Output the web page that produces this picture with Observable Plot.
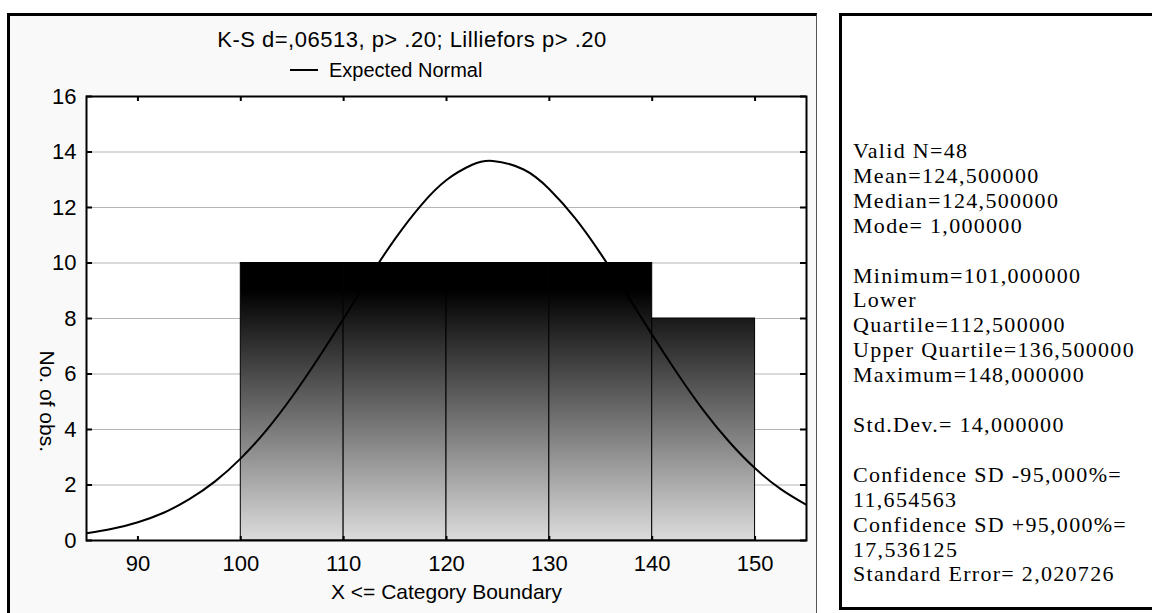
<!DOCTYPE html>
<html>
<head>
<meta charset="utf-8">
<script src="https://cdn.jsdelivr.net/npm/d3@7"></script>
<script src="https://cdn.jsdelivr.net/npm/@observablehq/plot@0.6"></script>
<style>
  html, body { margin: 0; padding: 0; background: #ffffff; width: 1152px; height: 613px; overflow: hidden; position: relative; }
  #leftPanel { position: absolute; left: 7px; top: 13px; width: 810px; height: 620px; box-sizing: border-box;
    background: #f9f9f9; border-top: 3px solid #000; border-left: 3px solid #000; border-right: 1px solid #555; }
  #rightPanel { position: absolute; left: 839px; top: 13px; width: 330px; height: 597px; box-sizing: border-box;
    background: #ffffff; border: 3px solid #000; }
  #title { position: absolute; left: 7px; width: 810px; top: 27px; text-align: center;
    font-family: "Liberation Sans", Arial, sans-serif; font-size: 22px; letter-spacing: 0.5px; line-height: 26px; color: #000; }
  #legend { position: absolute; left: 290px; top: 57px; height: 26px; display: flex; align-items: center;
    font-family: "Liberation Sans", Arial, sans-serif; font-size: 20px; color: #000; }
  #legend .swatch { width: 28px; height: 0; border-top: 2px solid #000; margin-right: 11px; }
  #chart { position: absolute; left: 7px; top: 80px; }
  #stats { position: absolute; left: 853px; top: 139px; font-family: "Liberation Serif", "Times New Roman", serif;
    font-size: 22px; letter-spacing: 1.3px; line-height: 24.9px; color: #000; white-space: pre; }
</style>
</head>
<body>
<div id="leftPanel"></div>
<div id="rightPanel"></div>
<div id="title"></div>
<div id="legend"><div class="swatch"></div><span id="legendText"></span></div>
<div id="chart"></div>
<div id="stats"></div>
<script>
// ---- data ----
const titleText = "K-S d=,06513, p> .20; Lilliefors p> .20";
const legendLabel = "Expected Normal";
const xLabel = "X <= Category Boundary";
const yLabel = "No. of obs.";

const binStarts = [100, 110, 120, 130, 140];
const binEnds = [110, 120, 130, 140, 150];
const counts = [10, 10, 10, 10, 8];

// expected normal curve
const curveX = [85, 87.5, 90, 92.5, 95, 97.5, 100, 102.5, 105, 107.5, 110, 112.5, 115, 117.5, 120, 122.5, 124.5, 127.5, 130, 132.5, 135, 137.5, 140, 142.5, 145, 147.5, 150, 152.5, 155];
const curveY = [0.26, 0.42, 0.66, 1.0, 1.49, 2.13, 2.96, 3.98, 5.19, 6.55, 8.0, 9.48, 10.87, 12.07, 12.99, 13.54, 13.68, 13.37, 12.66, 11.62, 10.33, 8.89, 7.41, 5.99, 4.68, 3.55, 2.60, 1.85, 1.28];

const xDomain = [85, 155];
const yDomain = [0, 16];
const xTicks = [90, 100, 110, 120, 130, 140, 150];
const yTicks = [0, 2, 4, 6, 8, 10, 12, 14, 16];

const statLines = [
  "Valid N=48",
  "Mean=124,500000",
  "Median=124,500000",
  "Mode= 1,000000",
  "",
  "Minimum=101,000000",
  "Lower",
  "Quartile=112,500000",
  "Upper Quartile=136,500000",
  "Maximum=148,000000",
  "",
  "Std.Dev.= 14,000000",
  "",
  "Confidence SD -95,000%=",
  "11,654563",
  "Confidence SD +95,000%=",
  "17,536125",
  "Standard Error= 2,020726"
];

// ---- build ----
document.getElementById("title").textContent = titleText;
document.getElementById("legendText").textContent = legendLabel;
document.getElementById("stats").textContent = statLines.join("\n");

const bins = binStarts.map((s, i) => ({x1: s, x2: binEnds[i], count: counts[i]}));
const curve = curveX.map((x, i) => ({x, y: curveY[i]}));

const W = 810, H = 533, mL = 79, mR = 11, mT = 16, mB = 73;
const plotW = W - mL - mR, plotH = H - mT - mB;

const chart = Plot.plot({
  width: W, height: H,
  marginLeft: mL, marginRight: mR, marginTop: mT, marginBottom: mB,
  style: {background: "transparent", fontFamily: "'Liberation Sans', Arial, sans-serif", fontSize: "22px", color: "#000"},
  x: {domain: xDomain, ticks: xTicks, tickSize: 0, tickPadding: 15, label: null},
  y: {domain: yDomain, ticks: yTicks, tickSize: 0, tickPadding: 10, label: null},
  marks: [
    Plot.frame({fill: "white", stroke: "none"}),
    Plot.ruleY(yTicks.filter(d => d > yDomain[0] && d < yDomain[1]), {stroke: "#b4b4b4", strokeWidth: 1}),
    Plot.rectY(bins, {x1: "x1", x2: "x2", y: "count", fill: "url(#barGrad)", stroke: "#000", strokeWidth: 1}),
    Plot.line(curve, {x: "x", y: "y", stroke: "#000", strokeWidth: 2, curve: "natural", clip: true}),
    // inward ticks on all four sides
    Plot.ruleY(yTicks, {stroke: "#000", strokeWidth: 2, insetRight: plotW - 6}),
    Plot.ruleY(yTicks, {stroke: "#000", strokeWidth: 2, insetLeft: plotW - 6}),
    Plot.ruleX(xTicks, {stroke: "#000", strokeWidth: 2, insetBottom: plotH - 5}),
    Plot.ruleX(xTicks, {stroke: "#000", strokeWidth: 2, insetTop: plotH - 4}),
    Plot.frame({stroke: "#000", strokeWidth: 2}),
    Plot.text([xLabel], {frameAnchor: "bottom", dy: 58, fontSize: 21, fill: "#000"}),
    Plot.text([yLabel], {frameAnchor: "left", rotate: 90, dx: -40, dy: 32, fontSize: 21, fill: "#000"})
  ]
});

// vertical gradient in plot coordinates: black at the top bars, light grey at the baseline
let yTop, yBot;
try { const ys = chart.scale("y"); yTop = ys.apply(10); yBot = ys.apply(0); }
catch (e) { yTop = mT + plotH * (1 - 10 / 16); yBot = mT + plotH; }
const ns = "http://www.w3.org/2000/svg";
const defs = document.createElementNS(ns, "defs");
const grad = document.createElementNS(ns, "linearGradient");
grad.setAttribute("id", "barGrad");
grad.setAttribute("gradientUnits", "userSpaceOnUse");
grad.setAttribute("x1", 0); grad.setAttribute("x2", 0);
grad.setAttribute("y1", yTop); grad.setAttribute("y2", yBot);
[[0, "#000000"], [0.1, "#000000"], [1, "#dcdcdc"]].forEach(([o, c]) => {
  const s = document.createElementNS(ns, "stop");
  s.setAttribute("offset", o); s.setAttribute("stop-color", c);
  grad.appendChild(s);
});
defs.appendChild(grad);
chart.insertBefore(defs, chart.firstChild);

document.getElementById("chart").appendChild(chart);
</script>
</body>
</html>
